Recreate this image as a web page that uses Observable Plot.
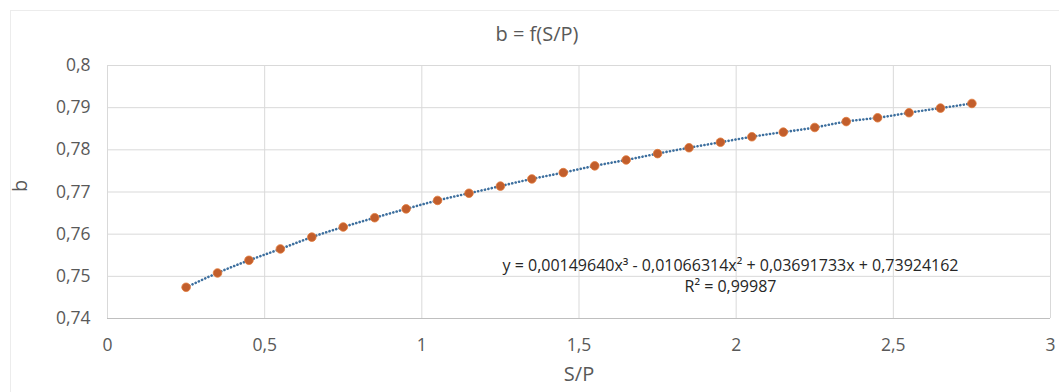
<!DOCTYPE html>
<html>
<head>
<meta charset="utf-8">
<script src="https://cdn.jsdelivr.net/npm/d3@7"></script>
<script src="https://cdn.jsdelivr.net/npm/@observablehq/plot@0.6"></script>
<style>
  html, body { margin: 0; padding: 0; background: #fff; }
  #wrap { position: relative; width: 1059px; height: 392px; overflow: hidden; font-family: "Open Sans", sans-serif; }
  #frame { position: absolute; left: 10px; top: 10px; right: -2px; bottom: -2px; border-top: 1px solid #ececec; border-left: 1px solid #ececec; pointer-events: none; }
  #title { position: absolute; left: 0; top: 0; width: 1074px; height: 50px; line-height: 68px; text-align: center; font-size: 20px; color: #595959; }
  #chart { position: absolute; left: 0; top: 50px; }
</style>
</head>
<body>
<div id="wrap">
  <div id="frame"></div>
  <div id="title">b = f(S/P)</div>
  <div id="chart"></div>
</div>
<script>
const titleText = "b = f(S/P)";
const xLabel = "S/P";
const yLabel = "b";
const sp = [0.25, 0.35, 0.45, 0.55, 0.65, 0.75, 0.85, 0.95, 1.05, 1.15, 1.25, 1.35, 1.45,
            1.55, 1.65, 1.75, 1.85, 1.95, 2.05, 2.15, 2.25, 2.35, 2.45, 2.55, 2.65, 2.75];
const bValues = [0.7474, 0.7508, 0.7538, 0.7565, 0.7593, 0.7617, 0.7639, 0.7660, 0.7680, 0.7697,
                 0.7714, 0.7731, 0.7746, 0.7762, 0.7776, 0.7791, 0.7805, 0.7818, 0.7831, 0.7842,
                 0.7853, 0.7867, 0.7876, 0.7888, 0.7899, 0.7910];
const xTicks = [0, 0.5, 1, 1.5, 2, 2.5, 3];
const yTicks = [0.74, 0.75, 0.76, 0.77, 0.78, 0.79, 0.8];
const equationText = "y = 0,00149640x³ - 0,01066314x² + 0,03691733x + 0,73924162\nR² = 0,99987";

const data = sp.map((x, i) => ({x, b: bValues[i]}));
const fmt = d => String(d).replace(".", ",");

const chart = Plot.plot({
  width: 1059,
  height: 342,
  marginLeft: 107,
  marginRight: 9,
  marginTop: 15,
  marginBottom: 74,
  style: {fontFamily: "Open Sans, sans-serif", fontSize: "17px", color: "#595959", background: "transparent"},
  x: {domain: [0, 3], ticks: xTicks, tickFormat: fmt},
  y: {domain: [0.74, 0.8], ticks: yTicks, tickFormat: fmt},
  marks: [
    Plot.gridX(xTicks, {stroke: "#d9d9d9", strokeOpacity: 1, strokeWidth: 1}),
    Plot.gridY(yTicks.slice(1), {stroke: "#d9d9d9", strokeOpacity: 1, strokeWidth: 1}),
    Plot.ruleY([0.74], {stroke: "#bfbfbf", strokeWidth: 1.2}),
    Plot.axisX({ticks: xTicks, tickFormat: fmt, tickSize: 0, tickPadding: 20, fontSize: 17.5, fill: "#595959",
                label: xLabel, labelAnchor: "center", labelArrow: "none", labelOffset: 62}),
    Plot.axisY({ticks: yTicks, tickFormat: fmt, tickSize: 0, tickPadding: 17, fontSize: 17.5, fill: "#595959",
                label: null}),
    Plot.text([yLabel], {frameAnchor: "left", dx: -87, rotate: -90, fontSize: 20, fill: "#595959"}),
    Plot.line(data, {x: "x", y: "b", curve: "natural", stroke: "#3d6f9e", strokeWidth: 2.6,
                     strokeDasharray: "0.1,3.4", strokeLinecap: "round"}),
    Plot.dot(data, {x: "x", y: "b", r: 4.3, fill: "#c25e2c", stroke: "#e27a3a", strokeWidth: 0.8}),
    Plot.text([equationText], {frameAnchor: "bottom-right", dx: -320, dy: -44, textAnchor: "middle",
                               lineAnchor: "middle", lineHeight: 1.3, fontSize: 16, fill: "#262626"})
  ]
});
document.getElementById("chart").appendChild(chart);
chart.querySelectorAll("[aria-label='x-axis label'] text").forEach(t => t.setAttribute("font-size", "20"));
</script>
</body>
</html>
